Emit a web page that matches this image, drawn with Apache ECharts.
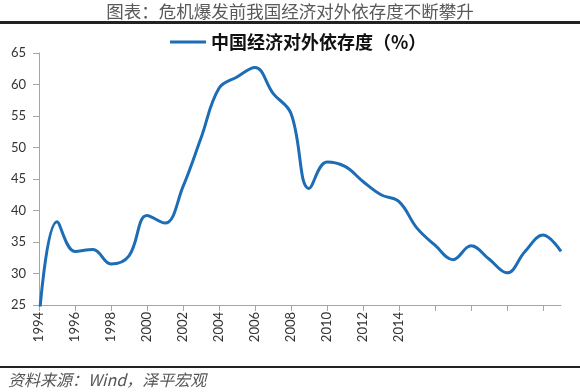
<!DOCTYPE html>
<html>
<head>
<meta charset="utf-8">
<script src="https://cdn.jsdelivr.net/npm/echarts@6/dist/echarts.min.js"></script>
<style>
html,body{margin:0;padding:0;background:#fff;}
#chart{width:580px;height:392px;}
</style>
</head>
<body>
<div id="chart"></div>
<script>
var years = ['1994','1995','1996','1997','1998','1999','2000','2001','2002','2003',
             '2004','2005','2006','2007','2008','2009','2010','2011','2012','2013',
             '2014','2015','2016','2017','2018','2019','2020','2021','2022','2023'];
var dependence = [22.5,38.2,33.5,33.8,31.5,32.8,39.2,38.0,43.8,51.5,
                  59.4,61.2,62.7,58.6,55.4,43.5,47.7,47.0,44.6,42.5,
                  41.4,37.2,34.5,32.2,34.4,32.3,30.1,33.5,36.1,33.5];
var lastLabeledYear = 2014;
var seriesName = '中国经济对外依存度（%）';
var titleText = '图表：危机爆发前我国经济对外依存度不断攀升';
var sourceText = '资料来源：Wind，泽平宏观';

var chart = echarts.init(document.getElementById('chart'), null, {renderer:'canvas'});
var axisColor = '#a6a6a6';
var cjk = '"Noto Sans CJK SC", "Noto Sans", sans-serif';
chart.setOption({
  animation: false,
  backgroundColor: '#ffffff',
  title: {
    text: titleText,
    left: 'center',
    top: 1,
    padding: 0,
    textStyle: {fontSize: 17.5, fontWeight: 'normal', color: '#595959', fontFamily: cjk, lineHeight: 20}
  },
  legend: {
    data: [seriesName],
    left: 165,
    top: 28,
    icon: 'rect',
    itemWidth: 36,
    itemHeight: 3,
    itemGap: 6,
    textStyle: {fontSize: 18, fontWeight: 'bold', color: '#111', fontFamily: cjk}
  },
  grid: {left: 39, right: 19, top: 53, bottom: 87, containLabel: false},
  xAxis: {
    type: 'category',
    data: years,
    boundaryGap: false,
    axisLine: {lineStyle: {color: axisColor, width: 1}},
    axisTick: {show: true, interval: 1, length: 6, lineStyle: {color: axisColor}},
    axisLabel: {
      interval: 1,
      rotate: 90,
      margin: 7,
      fontSize: 13,
      color: '#333',
      fontFamily: 'Lato, "Open Sans", sans-serif',
      formatter: function (v) { return (+v <= lastLabeledYear) ? v : ''; }
    },
    splitLine: {show: false}
  },
  yAxis: {
    type: 'value',
    min: 25,
    max: 65,
    interval: 5,
    axisLine: {show: true, lineStyle: {color: axisColor, width: 1}},
    axisTick: {show: true, length: 6, lineStyle: {color: axisColor}},
    axisLabel: {margin: 13, fontSize: 13, color: '#333', fontFamily: 'Lato, "Open Sans", sans-serif'},
    splitLine: {show: false}
  },
  series: [{
    name: seriesName,
    type: 'line',
    data: dependence,
    smooth: 0.4,
    clip: true,
    showSymbol: false,
    symbol: 'none',
    lineStyle: {color: '#1c6db5', width: 3},
    itemStyle: {color: '#1c6db5'}
  }],
  graphic: [
    {type: 'rect', shape: {x: 0, y: 21, width: 580, height: 3}, style: {fill: '#222'}},
    {type: 'rect', shape: {x: 0, y: 366, width: 580, height: 2}, style: {fill: '#222'}},
    {type: 'text', left: 8, top: 372,
     style: {text: sourceText, fill: '#555', fontSize: 16, fontStyle: 'italic', fontFamily: cjk}}
  ]
});
</script>
</body>
</html>
